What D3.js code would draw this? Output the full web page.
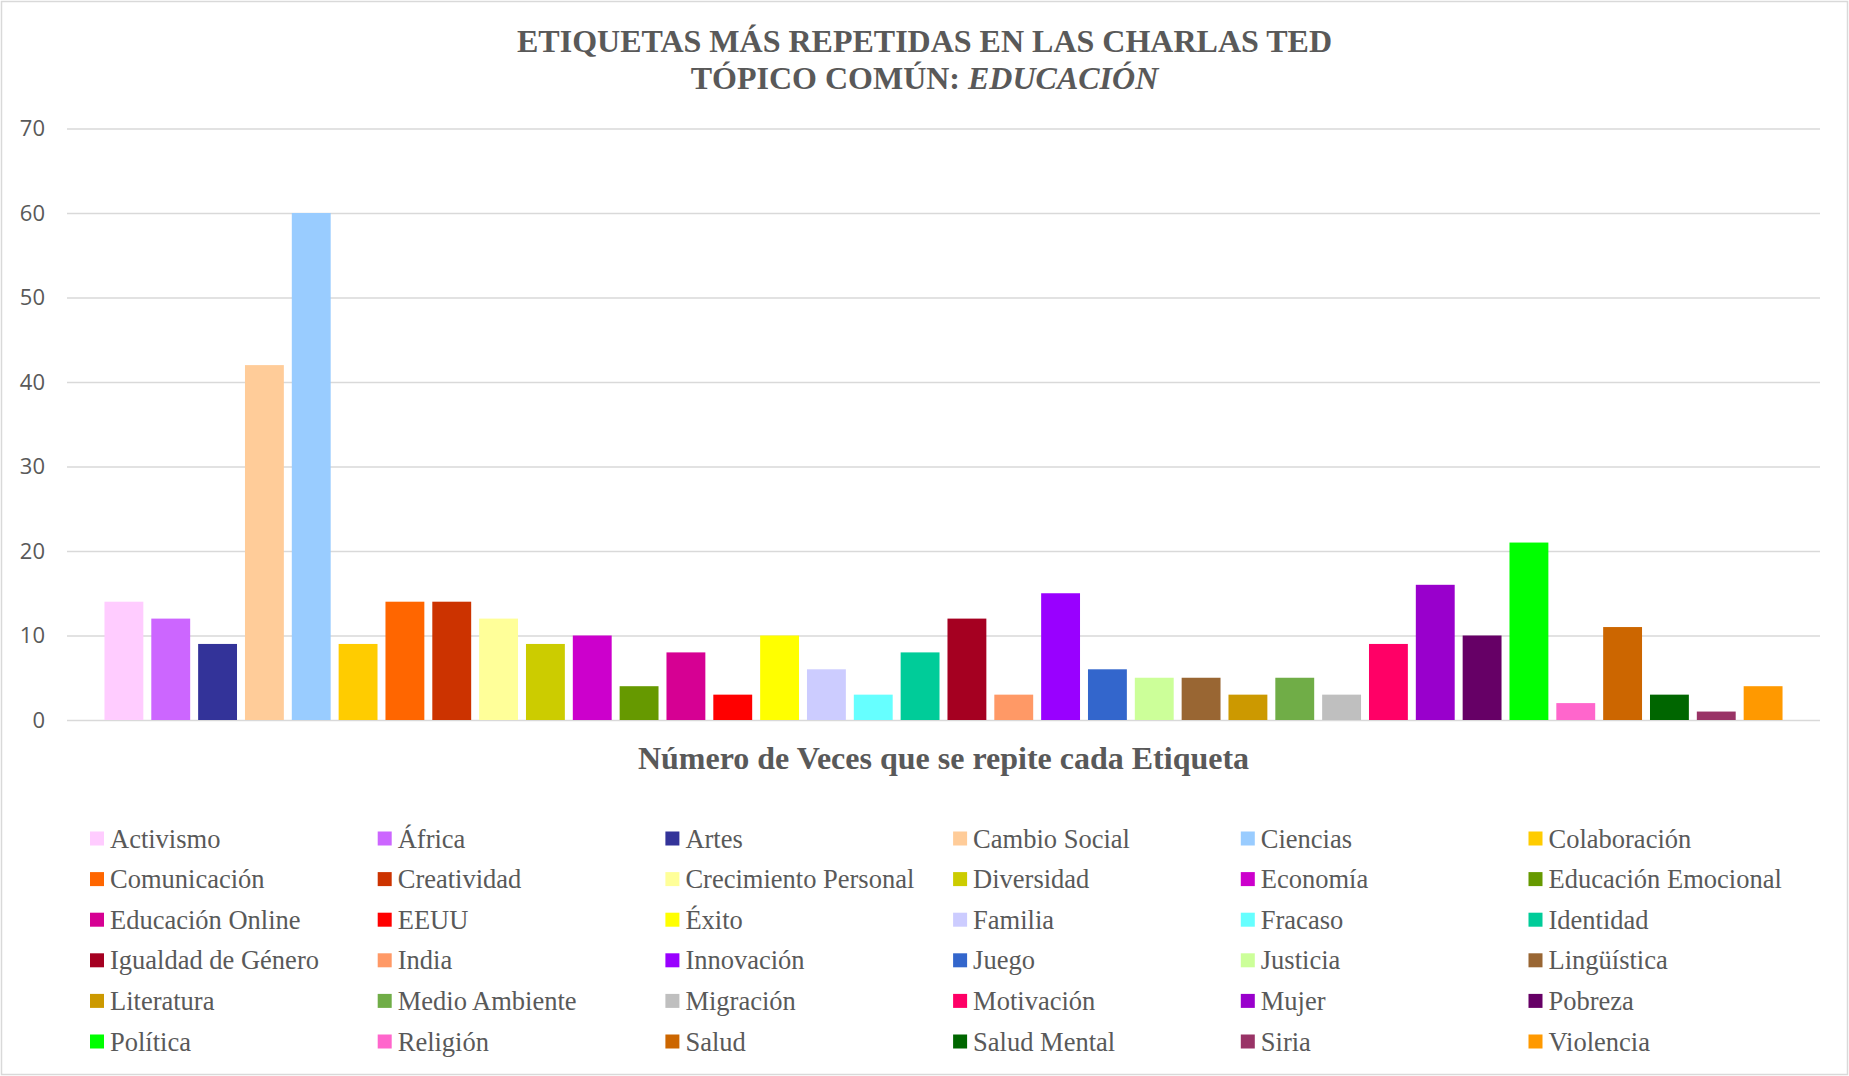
<!DOCTYPE html>
<html>
<head>
<meta charset="utf-8">
<script src="https://cdn.jsdelivr.net/npm/d3@7"></script>
<style>
  body { margin: 0; background: #fff; }
  svg { display: block; }
</style>
</head>
<body>
<svg id="chart" width="1849" height="1076"></svg>
<script>
const etiquetas = ["Activismo", "África", "Artes", "Cambio Social", "Ciencias", "Colaboración",
  "Comunicación", "Creatividad", "Crecimiento Personal", "Diversidad", "Economía", "Educación Emocional",
  "Educación Online", "EEUU", "Éxito", "Familia", "Fracaso", "Identidad",
  "Igualdad de Género", "India", "Innovación", "Juego", "Justicia", "Lingüística",
  "Literatura", "Medio Ambiente", "Migración", "Motivación", "Mujer", "Pobreza",
  "Política", "Religión", "Salud", "Salud Mental", "Siria", "Violencia"];

const repeticiones = [14, 12, 9, 42, 60, 9,
  14, 14, 12, 9, 10, 4,
  8, 3, 10, 6, 3, 8,
  12, 3, 15, 6, 5, 5,
  3, 5, 3, 9, 16, 10,
  21, 2, 11, 3, 1, 4];

const colores = ["#FFCCFF", "#CC66FF", "#333399", "#FFCC99", "#99CCFF", "#FFCC00",
  "#FF6600", "#CC3300", "#FFFF99", "#CCCC00", "#CC00CC", "#669900",
  "#D60093", "#FF0000", "#FFFF00", "#CCCCFF", "#66FFFF", "#00CC99",
  "#A50021", "#FF9966", "#9900FF", "#3366CC", "#CCFF99", "#996633",
  "#CC9900", "#70AD47", "#BFBFBF", "#FF0066", "#9900CC", "#660066",
  "#00FF00", "#FF66CC", "#CC6600", "#006600", "#993366", "#FF9900"];

const yTicks = [0, 10, 20, 30, 40, 50, 60, 70];

const serif = "'Liberation Serif', 'Times New Roman', serif";
const gris = "#595959";

const svg = d3.select("#chart");
const W = +svg.attr("width"), H = +svg.attr("height");

// borde del área del gráfico
svg.append("rect")
  .attr("x", 1.5).attr("y", 1.5)
  .attr("width", W - 3).attr("height", H - 3)
  .attr("fill", "#fff")
  .attr("stroke", "#d9d9d9")
  .attr("stroke-width", 1.5);

const plot = {left: 67, right: 1820, top: 128.5, bottom: 720};

const x = d3.scaleBand()
  .domain(etiquetas)
  .range([plot.left, plot.right])
  .paddingInner(0.17)
  .paddingOuter(0.8);

const y = d3.scaleLinear()
  .domain([0, 70])
  .range([plot.bottom, plot.top]);

const color = d3.scaleOrdinal().domain(etiquetas).range(colores);

// título
const title = svg.append("text")
  .attr("text-anchor", "middle")
  .attr("font-family", serif)
  .attr("font-weight", "bold")
  .attr("font-size", 32)
  .attr("fill", gris);
title.append("tspan").attr("x", W / 2).attr("y", 52)
  .text("ETIQUETAS MÁS REPETIDAS EN LAS CHARLAS TED");
const t2 = title.append("tspan").attr("x", W / 2).attr("y", 89);
t2.append("tspan").text("TÓPICO COMÚN: ");
t2.append("tspan").attr("font-style", "italic").text("EDUCACIÓN");

// rejilla y eje y
const yAxis = svg.append("g")
  .attr("transform", "translate(" + plot.left + ",0)")
  .call(d3.axisLeft(y).tickValues(yTicks).tickSize(-(plot.right - plot.left)).tickPadding(22));
yAxis.select(".domain").remove();
yAxis.selectAll(".tick line")
  .attr("stroke", "#d9d9d9")
  .attr("stroke-width", 1.5);
yAxis.selectAll(".tick text")
  .attr("font-family", "'Open Sans', sans-serif")
  .attr("font-size", 22)
  .attr("fill", gris);

// barras
svg.append("g")
  .selectAll("rect")
  .data(etiquetas)
  .enter().append("rect")
  .attr("x", d => x(d))
  .attr("y", (d, i) => y(repeticiones[i]))
  .attr("width", x.bandwidth())
  .attr("height", (d, i) => y(0) - y(repeticiones[i]))
  .attr("fill", d => color(d));

// título del eje x
svg.append("text")
  .attr("x", (plot.left + plot.right) / 2)
  .attr("y", 769)
  .attr("text-anchor", "middle")
  .attr("font-family", serif)
  .attr("font-weight", "bold")
  .attr("font-size", 32)
  .attr("fill", gris)
  .text("Número de Veces que se repite cada Etiqueta");

// leyenda
const cols = 6, colStep = 287.7, rowStep = 40.6;
const legend = svg.append("g")
  .selectAll(".legend")
  .data(etiquetas)
  .enter().append("g")
  .attr("class", "legend")
  .attr("transform", (d, i) => "translate(" + (90 + (i % cols) * colStep) + "," + (838.5 + Math.floor(i / cols) * rowStep) + ")");

legend.append("rect")
  .attr("x", 0).attr("y", -7)
  .attr("width", 14).attr("height", 14)
  .attr("fill", d => color(d));

legend.append("text")
  .attr("x", 20)
  .attr("y", 9)
  .attr("font-family", serif)
  .attr("font-size", 26.5)
  .attr("fill", gris)
  .text(d => d);
</script>
</body>
</html>
